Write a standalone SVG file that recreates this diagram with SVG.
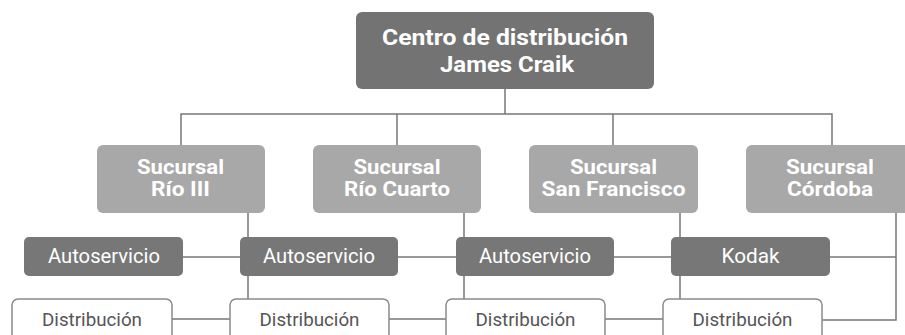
<svg xmlns="http://www.w3.org/2000/svg" width="905" height="335" viewBox="0 0 905 335">
<style>
.top{fill:#737373}
.suc{fill:#a8a8a8}
.aut{fill:#777777}
.dis{fill:#ffffff;stroke:#8a8a8a;stroke-width:1.5}
text{font-family:Roboto,"Liberation Sans",sans-serif;text-anchor:middle}
.tb{font-weight:bold;fill:#ffffff}
.tr{fill:#ffffff;font-size:20px}
.td{fill:#555555;font-size:19px}
.ln{fill:none;stroke:#777777;stroke-width:1.5}
</style>
<rect width="905" height="335" fill="#ffffff"/>
<g id="connectors" class="ln">
<path d="M505 89V114M181 145V114H832V145M397 114V145M613 114V145"/>
<path d="M248 213V237M248 276V299M464 213V237M464 276V299M680 213V237M680 276V299"/>
<path d="M896 213V320H822M830 257H896"/>
<path d="M183 257H240M398 257H456M614 257H671"/>
<path d="M172 319H230M389 319H446M605 319H663"/>
</g>
<g id="centro">
<rect class="top" x="356" y="12" width="298" height="77" rx="6"/>
<text class="tb" x="505" y="44.5" font-size="22" textLength="246" lengthAdjust="spacingAndGlyphs">Centro de distribución</text>
<text class="tb" x="507" y="71.5" font-size="22" textLength="134" lengthAdjust="spacingAndGlyphs">James Craik</text>
</g>
<g id="suc-rio3">
<rect class="suc" x="97" y="145" width="168" height="68" rx="6"/>
<text class="tb" x="180.5" y="173.5" font-size="20" textLength="87" lengthAdjust="spacingAndGlyphs">Sucursal</text>
<text class="tb" x="180.5" y="195.5" font-size="20" textLength="59" lengthAdjust="spacingAndGlyphs">Río III</text>
</g>
<g id="suc-rio4">
<rect class="suc" x="313" y="145" width="168" height="68" rx="6"/>
<text class="tb" x="397" y="173.5" font-size="20" textLength="87" lengthAdjust="spacingAndGlyphs">Sucursal</text>
<text class="tb" x="397" y="195.5" font-size="20" textLength="106" lengthAdjust="spacingAndGlyphs">Río Cuarto</text>
</g>
<g id="suc-sanfrancisco">
<rect class="suc" x="529" y="145" width="169" height="68" rx="6"/>
<text class="tb" x="613.5" y="173.5" font-size="20" textLength="87" lengthAdjust="spacingAndGlyphs">Sucursal</text>
<text class="tb" x="613.5" y="195.5" font-size="20" textLength="144" lengthAdjust="spacingAndGlyphs">San Francisco</text>
</g>
<g id="suc-cordoba">
<rect class="suc" x="746" y="145" width="168" height="68" rx="6"/>
<text class="tb" x="830" y="173.5" font-size="20" textLength="88" lengthAdjust="spacingAndGlyphs">Sucursal</text>
<text class="tb" x="830" y="195.5" font-size="20" textLength="86" lengthAdjust="spacingAndGlyphs">Córdoba</text>
</g>
<g id="aut-1">
<rect class="aut" x="24" y="237" width="159" height="39" rx="5"/>
<text class="tr" x="104" y="263" textLength="112" lengthAdjust="spacingAndGlyphs">Autoservicio</text>
</g>
<g id="aut-2">
<rect class="aut" x="240" y="237" width="158" height="39" rx="5"/>
<text class="tr" x="319" y="263" textLength="112" lengthAdjust="spacingAndGlyphs">Autoservicio</text>
</g>
<g id="aut-3">
<rect class="aut" x="456" y="237" width="158" height="39" rx="5"/>
<text class="tr" x="535" y="263" textLength="112" lengthAdjust="spacingAndGlyphs">Autoservicio</text>
</g>
<g id="kodak">
<rect class="aut" x="671" y="237" width="159" height="39" rx="5"/>
<text class="tr" x="750.5" y="263" textLength="58" lengthAdjust="spacingAndGlyphs">Kodak</text>
</g>
<g id="dis-1">
<rect class="dis" x="12" y="299" width="160" height="46" rx="6"/>
<text class="td" x="92" y="325.5" textLength="100" lengthAdjust="spacingAndGlyphs">Distribución</text>
</g>
<g id="dis-2">
<rect class="dis" x="230" y="299" width="159" height="46" rx="6"/>
<text class="td" x="309.5" y="325.5" textLength="100" lengthAdjust="spacingAndGlyphs">Distribución</text>
</g>
<g id="dis-3">
<rect class="dis" x="446" y="299" width="159" height="46" rx="6"/>
<text class="td" x="525.5" y="325.5" textLength="100" lengthAdjust="spacingAndGlyphs">Distribución</text>
</g>
<g id="dis-4">
<rect class="dis" x="663" y="299" width="159" height="46" rx="6"/>
<text class="td" x="742.5" y="325.5" textLength="100" lengthAdjust="spacingAndGlyphs">Distribución</text>
</g>
</svg>
